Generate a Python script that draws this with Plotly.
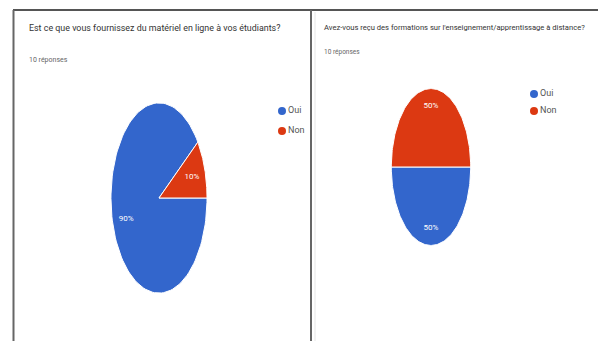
import numpy as np
import plotly.graph_objects as go

# ---- data ----
labels = ["Oui", "Non"]
q1_title = "Est ce que vous fournissez du matériel en ligne à vos étudiants?"
q1_values = [9, 1]
q2_title = "Avez-vous reçu des formations sur l'enseignement/apprentissage à distance?"
q2_values = [5, 5]
responses_text = "10 réponses"
colors = ["#3366CC", "#DC3912"]

# page body has an 8px margin; compensate so the picture lines up
OFF = 8
W, H = 606 - 2 * OFF, 349 - 2 * OFF
FONT = "Roboto, sans-serif"

fig = go.Figure()


def X(p):
    return (p - OFF) / W


def Y(p):
    return 1 - (p - OFF) / H


def add_pie(values, xa, ya, label_r):
    total = float(sum(values))
    start = 0.0  # 3 o'clock, clockwise
    for i, v in enumerate(values):
        span = 360.0 * v / total
        angs = np.radians(np.linspace(start, start - span, 120))
        xs = np.concatenate([[0], np.cos(angs), [0]])
        ys = np.concatenate([[0], np.sin(angs), [0]])
        fig.add_trace(go.Scatter(x=xs, y=ys, fill="toself", mode="lines",
                                 fillcolor=colors[i], line=dict(color="white", width=1),
                                 xaxis=xa, yaxis=ya, showlegend=False, hoverinfo="skip"))
        mid = np.radians(start - span / 2)
        pct = "%d%%" % round(100 * v / total)
        fig.add_trace(go.Scatter(x=[label_r * np.cos(mid)], y=[label_r * np.sin(mid)],
                                 mode="text", text=[pct],
                                 textfont=dict(color="white", size=8, family=FONT),
                                 xaxis=xa, yaxis=ya, showlegend=False, hoverinfo="skip"))
        start -= span


add_pie(q1_values, "x", "y", 0.72)
add_pie(q2_values, "x2", "y2", 0.78)

# legends (overlay pixel axis, page pixel coordinates)
legend_pos = [(282, 111, 20), (534, 94, 17)]
for (lx, ly, gap) in legend_pos:
    fig.add_trace(go.Scatter(x=[lx, lx], y=[ly, ly + gap], mode="markers+text",
                             text=labels, textposition="middle right",
                             marker=dict(color=colors, size=8),
                             textfont=dict(color="#555", size=9, family=FONT),
                             xaxis="x3", yaxis="y3", showlegend=False, hoverinfo="skip"))

hide = dict(visible=False, range=[-1.02, 1.02], fixedrange=True)
fig.update_layout(
    width=W, height=H, margin=dict(l=0, r=0, t=0, b=0),
    paper_bgcolor="white", plot_bgcolor="rgba(0,0,0,0)",
    xaxis=dict(domain=[X(110), X(208)], **hide),
    yaxis=dict(domain=[Y(295), Y(101)], **hide),
    xaxis2=dict(domain=[X(390.5), X(471.5)], anchor="y2", **hide),
    yaxis2=dict(domain=[Y(247), Y(87)], anchor="x2", **hide),
    xaxis3=dict(domain=[0, 1], range=[OFF, OFF + W], visible=False, anchor="y3"),
    yaxis3=dict(domain=[0, 1], range=[OFF + H, OFF], visible=False, anchor="x3"),
    showlegend=False,
)

annos = [
    (27, 28, q1_title, 8.9, "#333"),
    (322, 28, q2_title, 7.6, "#333"),
    (27, 60, responses_text, 7, "#666"),
    (322, 52, responses_text, 6.5, "#666"),
]
for (ax, ay, t, s, c) in annos:
    fig.add_annotation(x=X(ax), y=Y(ay), xref="paper", yref="paper", text=t,
                       showarrow=False, xanchor="left", yanchor="middle",
                       font=dict(size=s, color=c, family=FONT))

lines = [
    (13, 10, 598, 10, "#555", 2),
    (13.5, 10, 13.5, 341, "#666", 2),
    (311, 10, 311, 341, "#666", 2),
    (315, 12, 315, 341, "#e6e6e6", 1),
]
for (x0, y0, x1, y1, c, w) in lines:
    fig.add_shape(type="line", xref="paper", yref="paper",
                  x0=X(x0), x1=X(x1), y0=Y(y0), y1=Y(y1),
                  line=dict(color=c, width=w))

fig.write_html("out.html")
